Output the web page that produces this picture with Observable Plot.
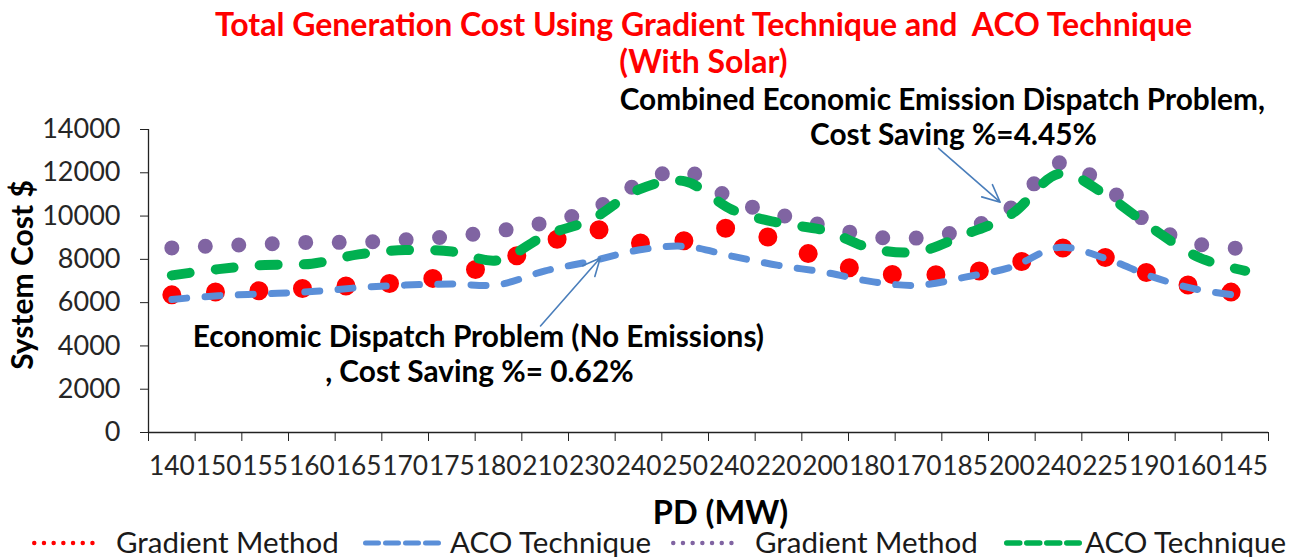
<!DOCTYPE html>
<html>
<head>
<meta charset="utf-8">
<script src="https://cdn.jsdelivr.net/npm/d3@7"></script>
<script src="https://cdn.jsdelivr.net/npm/@observablehq/plot@0.6"></script>
<style>
  html, body { margin: 0; padding: 0; background: #fff; overflow: hidden; }
  #wrap { position: relative; width: 1296px; height: 557px; font-family: Lato, sans-serif; }
  #wrap svg text { white-space: pre; }
  .legtxt { position: absolute; top: 527px; font-size: 29.5px; line-height: 29px; color: #1a1a1a; white-space: nowrap; }
  .legsvg { position: absolute; top: 528px; }
</style>
</head>
<body>
<div id="wrap"></div>
<script>
// ---- data ----
const pdLabels = ["140","150","155","160","165","170","175","180","210","230","240","250",
                  "240","220","200","180","170","185","200","240","225","190","160","145"];
const gradientED   = [6360,6500,6560,6680,6800,6950,7280,7840,8710,9400,8770,8870,
                      9460,8850,7950,7390,7280,7390,7740,8520,8090,7310,6700,6420];
const acoED        = [6150,6320,6410,6510,6690,6810,6860,6830,7470,7920,8430,8600,
                      8150,7720,7400,6970,6800,7180,7650,8550,8050,7200,6600,6300];
const gradientCEED = [8530,8630,8710,8790,8790,8900,9060,9310,9700,10280,11480,12100,
                      10770,10080,9550,9050,8990,9390,10400,12450,11380,9570,8710,8500];
const acoCEED      = [7260,7550,7740,7800,8230,8430,8360,7960,9100,9850,11220,11600,
                      10300,9690,9330,8500,8360,9150,10100,11950,11000,9450,8100,7470];
const yTicks = [0,2000,4000,6000,8000,10000,12000,14000];
const seriesNames = ["Gradient Method","ACO Technique","Gradient Method","ACO Technique"];
const titleLines = ["Total Generation Cost Using Gradient Technique and  ACO Technique", "(With Solar)"];
const yLabel = "System Cost $";
const xLabel = "PD (MW)";
const noteTexts = ["Combined Economic Emission Dispatch Problem,", "Cost Saving %=4.45%",
                   "Economic Dispatch Problem (No Emissions)", ", Cost Saving %= 0.62%"];
const noteX = [16.51, 16.75, 6.57, 6.59];
const noteY = [15350, 13730, 4410, 2790];
const arrowFrom = [[7.9, 4920], [16.43, 13130]];
const arrowTo   = [[9.18, 8060], [17.75, 10640]];

// ---- styles ----
const colors = ["#FF0000", "#5B8FD8", "#8064A2", "#00B050"];
const widths = [19, 7, 15, 10];
const dashes = ["0 43.6", "15 18.3", "0 33.5", "18 26.2"];

const idx = pdLabels.map((_, i) => i);
const rows = idx.map(i => ({i, label: pdLabels[i], s0: gradientED[i], s1: acoED[i], s2: gradientCEED[i], s3: acoCEED[i]}));
const boundaries = d3.range(0, 25).map(k => k - 0.5);
const notes = noteTexts.map((t, k) => ({t, x: noteX[k], y: noteY[k]}));
const arrows = arrowFrom.map((a, k) => ({x1: a[0], y1: a[1], x2: arrowTo[k][0], y2: arrowTo[k][1]}));

const lineMarks = ["s0","s1","s2","s3"].map((key, k) =>
  Plot.line(rows, {x: "i", y: key, stroke: colors[k], strokeWidth: widths[k],
    strokeDasharray: dashes[k], strokeLinecap: "round", strokeLinejoin: "round", curve: "cardinal"}));

const chart = Plot.plot({
  width: 1296, height: 528,
  marginLeft: 148, marginRight: 28, marginTop: 129, marginBottom: 96,
  style: {fontFamily: "Lato, sans-serif", background: "white", color: "#1a1a1a", overflow: "visible"},
  x: {type: "linear", domain: [-0.5, 23.5], axis: null},
  y: {domain: [0, 14000], axis: null},
  marks: [
    Plot.axisY(yTicks, {tickSize: 8, tickPadding: 20, fontSize: 27, tickFormat: d3.format("d"), label: null, stroke: "#222", fill: "#262626"}),
    Plot.axisX(boundaries, {tickSize: 9, tickFormat: () => "", label: null, stroke: "#222"}),
    Plot.axisX(idx, {tickSize: 0, tickPadding: 24, fontSize: 26.3, tickFormat: i => pdLabels[i], label: null, fill: "#262626"}),
    Plot.ruleX([-0.5], {stroke: "#222", strokeWidth: 1.3}),
    Plot.ruleY([0], {stroke: "#222", strokeWidth: 1.3}),
    ...lineMarks,
    Plot.arrow(arrows, {x1: "x1", y1: "y1", x2: "x2", y2: "y2", stroke: "#4A7EBB", strokeWidth: 1.6, headLength: 18, headAngle: 50}),
    Plot.text(notes, {x: "x", y: "y", text: "t", fontWeight: "bold", fontSize: 29.8, fill: "#000"}),
    Plot.text([titleLines[0]], {frameAnchor: "top", dx: -5, dy: -104, lineAnchor: "middle", fontSize: 32, fontWeight: "bold", fill: "#FF0000"}),
    Plot.text([titleLines[1]], {frameAnchor: "top", dx: -5, dy: -67, lineAnchor: "middle", fontSize: 32, fontWeight: "bold", fill: "#FF0000"}),
    Plot.text([yLabel], {frameAnchor: "left", dx: -125, dy: -6, rotate: -90, textAnchor: "middle", lineAnchor: "middle", fontSize: 30, fontWeight: "bold", fill: "#000"}),
    Plot.text([xLabel], {frameAnchor: "bottom", dx: 12, dy: 81, lineAnchor: "middle", fontSize: 32.5, fontWeight: "bold", fill: "#000"})
  ]
});

const wrap = document.getElementById("wrap");
wrap.appendChild(chart);

// ---- legend (below the SVG) ----
const legSamples = [[32, 100], [363, 442], [671, 742], [1004, 1082]];
const legText = [116, 450, 755, 1085];
const legW = [4.5, 5, 4.5, 5.5];
const legDash = ["0 9.7", "13 7", "0 9.7", "13 7"];
seriesNames.forEach((name, k) => {
  const [a, b] = legSamples[k];
  const ns = "http://www.w3.org/2000/svg";
  const svg = document.createElementNS(ns, "svg");
  svg.setAttribute("class", "legsvg");
  svg.setAttribute("width", b - a + 10);
  svg.setAttribute("height", 29);
  svg.style.left = (a - 5) + "px";
  const ln = document.createElementNS(ns, "line");
  ln.setAttribute("x1", 5 + legW[k] / 2); ln.setAttribute("x2", b - a + 5 - legW[k] / 2);
  ln.setAttribute("y1", 15); ln.setAttribute("y2", 15);
  ln.setAttribute("stroke", colors[k]); ln.setAttribute("stroke-width", legW[k]);
  ln.setAttribute("stroke-dasharray", legDash[k]); ln.setAttribute("stroke-linecap", "round");
  svg.appendChild(ln);
  wrap.appendChild(svg);
  const span = document.createElement("div");
  span.className = "legtxt";
  span.style.left = legText[k] + "px";
  span.textContent = name;
  wrap.appendChild(span);
});
</script>
</body>
</html>
